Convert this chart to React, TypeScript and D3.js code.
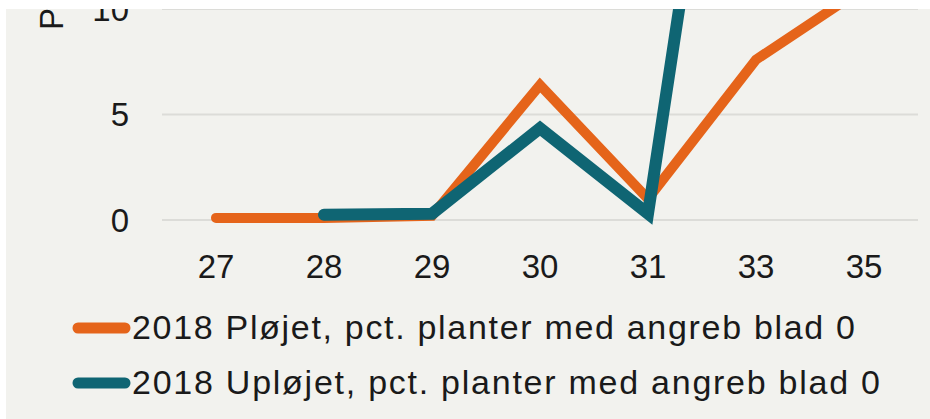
import * as d3 from 'd3';
import React, { useEffect, useRef } from 'react';

// Week numbers on the x axis
const weeks = ['27', '28', '29', '30', '31', '33', '35'];
// Percent of plants with attack, leaf 0
const ploejet: (number | null)[] = [0.1, 0.1, 0.2, 6.4, 1.0, 7.6, 11.0];
const uploejet: (number | null)[] = [null, 0.25, 0.3, 4.35, 0.3, 34, null];
const yTicks = [0, 5, 10];
const seriesNames = [
  '2018 Pløjet, pct. planter med angreb blad 0',
  '2018 Upløjet, pct. planter med angreb blad 0',
];
const yTitle = 'Pct. planter med angreb';

const W = 930;
const H = 419;
const colors = ['#e5641a', '#0f6573'];
const font = '"Liberation Sans", Arial, sans-serif';

const App = () => {
  const ref = useRef<SVGSVGElement>(null);

  useEffect(() => {
    const svg = d3.select(ref.current);
    svg.selectAll('*').remove();

    svg.append('rect').attr('width', W).attr('height', H).attr('fill', '#ffffff');
    svg.append('clipPath').attr('id', 'crop')
      .append('rect').attr('x', 6).attr('y', 9).attr('width', W - 6).attr('height', H - 9);

    const g = svg.append('g').attr('clip-path', 'url(#crop)');
    g.append('rect').attr('x', 6).attr('y', 9).attr('width', W - 6).attr('height', H - 9)
      .attr('fill', '#f2f2ee');

    const x = d3.scaleBand().domain(weeks).range([162, 918]);
    const y = d3.scaleLinear().domain([0, 10]).range([220, 9]);

    // gridlines
    g.append('g').selectAll('line').data(yTicks).join('line')
      .attr('x1', 162).attr('x2', 918)
      .attr('y1', (d) => y(d)).attr('y2', (d) => y(d))
      .attr('stroke', '#dcdcd8').attr('stroke-width', 2);

    // y tick labels
    g.append('g').selectAll('text').data(yTicks).join('text')
      .attr('x', 129).attr('y', (d) => y(d))
      .attr('text-anchor', 'end').attr('dominant-baseline', 'central')
      .attr('font-family', font).attr('font-size', 33).attr('fill', '#1a1a1a')
      .text((d) => d);

    // y title
    g.append('text')
      .attr('transform', 'translate(63, 30) rotate(-90)')
      .attr('font-family', font).attr('font-size', 33).attr('fill', '#1a1a1a')
      .text(yTitle);

    // x tick labels
    g.append('g').selectAll('text').data(weeks).join('text')
      .attr('x', (d) => (x(d) as number) + x.bandwidth() / 2).attr('y', 278)
      .attr('text-anchor', 'middle')
      .attr('font-family', font).attr('font-size', 33).attr('fill', '#1a1a1a')
      .text((d) => d);

    const line = d3.line<number | null>()
      .defined((d) => d !== null)
      .x((_, i) => (x(weeks[i]) as number) + x.bandwidth() / 2)
      .y((d) => y(d as number));

    [ploejet, uploejet].forEach((s, i) => {
      g.append('path')
        .datum(s)
        .attr('fill', 'none')
        .attr('stroke', colors[i])
        .attr('stroke-width', i === 0 ? 10 : 12)
        .attr('stroke-linecap', 'round')
        .attr('stroke-linejoin', 'miter')
        .attr('d', line);
    });

    // legend
    const legend = g.append('g');
    seriesNames.forEach((name, i) => {
      const cy = 328 + i * 55;
      legend.append('line')
        .attr('x1', 78).attr('x2', 125).attr('y1', cy).attr('y2', cy)
        .attr('stroke', colors[i]).attr('stroke-width', 11).attr('stroke-linecap', 'round');
      legend.append('text')
        .attr('x', 132).attr('y', cy + 11)
        .attr('font-family', font).attr('font-size', 34).attr('fill', '#1a1a1a')
        .attr('textLength', i === 0 ? 723 : 748).attr('lengthAdjust', 'spacing')
        .text(name);
    });
  }, []);

  return <svg ref={ref} width={W} height={H} style={{ position: 'absolute', left: 0, top: 0 }} />;
};

export default App;
